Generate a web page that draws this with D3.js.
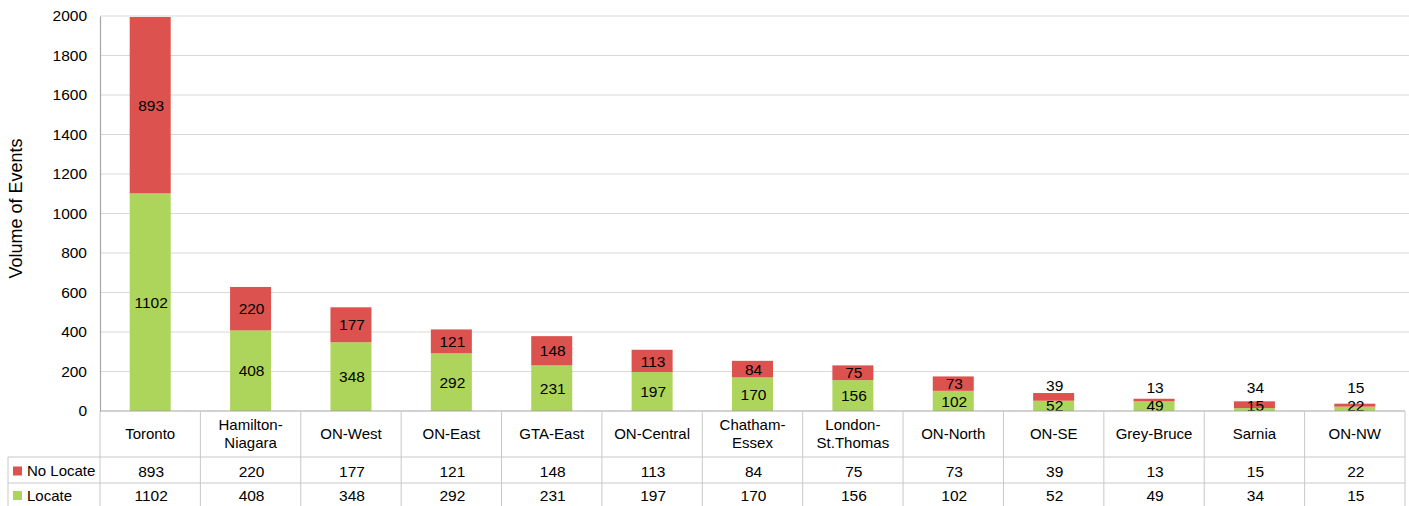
<!DOCTYPE html>
<html>
<head>
<meta charset="utf-8">
<script src="https://cdn.jsdelivr.net/npm/d3@7/dist/d3.min.js"></script>
<style>
  body { margin: 0; background: #fff; }
  svg { font-family: "Liberation Sans", Arial, sans-serif; display: block; }
</style>
</head>
<body>
<svg id="chart" width="1409" height="506"></svg>
<script>
// region names (line breaks as in the source)
const regions = [
  ["Toronto"], ["Hamilton-", "Niagara"], ["ON-West"], ["ON-East"], ["GTA-East"],
  ["ON-Central"], ["Chatham-", "Essex"], ["London-", "St.Thomas"], ["ON-North"],
  ["ON-SE"], ["Grey-Bruce"], ["Sarnia"], ["ON-NW"]
];

// values as labelled on the bars
const barNoLocate = [893, 220, 177, 121, 148, 113, 84, 75, 73, 39, 13, 34, 15];
const barLocate   = [1102, 408, 348, 292, 231, 197, 170, 156, 102, 52, 49, 15, 22];

// values as printed in the data table
const tableNoLocate = [893, 220, 177, 121, 148, 113, 84, 75, 73, 39, 13, 15, 22];
const tableLocate   = [1102, 408, 348, 292, 231, 197, 170, 156, 102, 52, 49, 34, 15];

const yTicks = [0, 200, 400, 600, 800, 1000, 1200, 1400, 1600, 1800, 2000];

const red = "#dc524f";
const green = "#aed55b";

const svg = d3.select("#chart");
const plotLeft = 100, plotRight = 1405, plotTop = 16, plotBottom = 411;

const x = d3.scaleBand()
  .domain(d3.range(regions.length))
  .range([plotLeft, plotRight])
  .paddingInner(0)
  .paddingOuter(0);

const y = d3.scaleLinear()
  .domain([0, 2000])
  .range([plotBottom, plotTop]);

// gridlines
svg.append("g")
  .selectAll("line")
  .data(yTicks.filter(d => d > 0))
  .enter()
  .append("line")
  .attr("x1", plotLeft)
  .attr("x2", plotRight + 4)
  .attr("y1", d => y(d))
  .attr("y2", d => y(d))
  .attr("stroke", "#d9d9d9")
  .attr("stroke-width", 1.2);

// y axis
const yAxis = d3.axisLeft(y).tickValues(yTicks).tickFormat(d3.format("d")).tickSize(0).tickPadding(13);
const gy = svg.append("g").attr("transform", `translate(${plotLeft},0)`).call(yAxis);
gy.select(".domain").attr("stroke", "#a6a6a6").attr("stroke-width", 1.2);
gy.selectAll("text")
  .attr("font-size", 15.5)
  .attr("fill", "#000")
  .attr("font-family", "Liberation Sans, Arial, sans-serif");

svg.append("text")
  .attr("transform", `translate(22,${(plotTop + plotBottom) / 2 - 5}) rotate(-90)`)
  .attr("text-anchor", "middle")
  .attr("font-size", 18)
  .text("Volume of Events");

// bars
const barW = 41;
const bars = svg.append("g");
regions.forEach((r, i) => {
  const cx = x(i) + x.bandwidth() / 2;
  const g0 = y(0), g1 = y(barLocate[i]);
  const r1 = y(barLocate[i] + barNoLocate[i]);
  bars.append("rect")
    .attr("x", cx - barW / 2).attr("y", g1)
    .attr("width", barW).attr("height", g0 - g1)
    .attr("fill", green);
  bars.append("rect")
    .attr("x", cx - barW / 2).attr("y", r1)
    .attr("width", barW).attr("height", g1 - r1)
    .attr("fill", red);

  const greenY = Math.min((g0 + g1) / 2, g0 - 6);
  bars.append("text")
    .attr("x", cx + 1).attr("y", greenY)
    .attr("dy", "0.36em")
    .attr("text-anchor", "middle")
    .attr("font-size", 15.5)
    .text(barLocate[i]);

  const redH = g1 - r1;
  bars.append("text")
    .attr("x", cx + 1)
    .attr("y", redH < 12 ? Math.min(r1 - 8, greenY - 18) : (g1 + r1) / 2)
    .attr("dy", "0.36em")
    .attr("text-anchor", "middle")
    .attr("font-size", 15.5)
    .text(barNoLocate[i]);
});

// x axis line
svg.append("line")
  .attr("x1", plotLeft).attr("x2", plotRight)
  .attr("y1", plotBottom).attr("y2", plotBottom)
  .attr("stroke", "#a6a6a6").attr("stroke-width", 1.2);

// data table
const row1 = 457, row2 = 483, tableBottom = 506;
const tcol = "#c8c8c8";
const table = svg.append("g");

[row1, row2].forEach(yy => {
  table.append("line")
    .attr("x1", 8).attr("x2", plotRight)
    .attr("y1", yy).attr("y2", yy)
    .attr("stroke", tcol);
});
table.append("line")
  .attr("x1", 8).attr("x2", 8)
  .attr("y1", row1).attr("y2", tableBottom)
  .attr("stroke", tcol);

d3.range(regions.length + 1).forEach(i => {
  const xx = i < regions.length ? x(i) : plotRight;
  table.append("line")
    .attr("x1", xx).attr("x2", xx)
    .attr("y1", plotBottom).attr("y2", tableBottom)
    .attr("stroke", tcol);
});

regions.forEach((r, i) => {
  const cx = x(i) + x.bandwidth() / 2;
  const t = table.append("text")
    .attr("text-anchor", "middle")
    .attr("font-size", 15)
    .attr("x", cx);
  const base = r.length === 1 ? 434 : 425;
  r.forEach((line, k) => {
    t.append("tspan")
      .attr("x", cx)
      .attr("y", base + k * 17.5)
      .attr("dy", "0.36em")
      .text(line);
  });

  table.append("text")
    .attr("x", cx + 1).attr("y", (row1 + row2) / 2 + 1)
    .attr("dy", "0.36em")
    .attr("text-anchor", "middle")
    .attr("font-size", 15.5)
    .text(tableNoLocate[i]);
  table.append("text")
    .attr("x", cx + 1).attr("y", (row2 + tableBottom) / 2 + 1)
    .attr("dy", "0.36em")
    .attr("text-anchor", "middle")
    .attr("font-size", 15.5)
    .text(tableLocate[i]);
});

// legend keys in the table
const legend = [
  { name: "No Locate", color: red, yy: (row1 + row2) / 2 + 1 },
  { name: "Locate", color: green, yy: (row2 + tableBottom) / 2 + 1 }
];
legend.forEach(l => {
  table.append("rect")
    .attr("x", 13).attr("y", l.yy - 4.5)
    .attr("width", 9).attr("height", 9)
    .attr("fill", l.color);
  table.append("text")
    .attr("x", 27).attr("y", l.yy)
    .attr("dy", "0.36em")
    .attr("font-size", 15)
    .text(l.name);
});
</script>
</body>
</html>
